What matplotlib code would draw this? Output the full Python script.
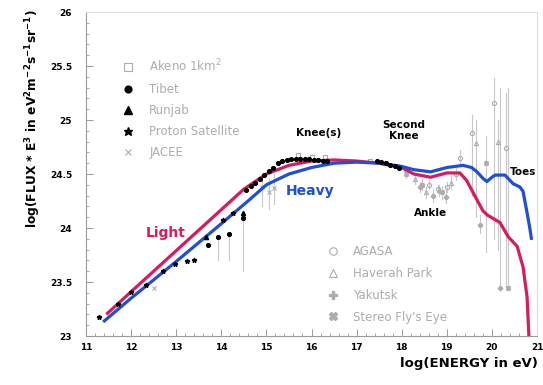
import matplotlib
matplotlib.use("Agg")
import matplotlib.pyplot as plt
from matplotlib.ticker import MultipleLocator, FixedLocator

# ---------------- data ----------------
light_x = [11.45, 12.0, 12.5, 13.0, 13.5, 14.0, 14.5, 15.0, 15.5, 16.0, 16.5, 17.0, 17.5,
           18.0, 18.27, 18.64, 19.0, 19.29, 19.44, 19.67, 19.8, 19.9, 20.02, 20.18, 20.36,
           20.56, 20.69, 20.78, 20.82]
light_y = [23.2, 23.41, 23.6, 23.79, 23.98, 24.17, 24.36, 24.5, 24.58, 24.62, 24.63, 24.62, 24.6,
           24.56, 24.5, 24.47, 24.51, 24.51, 24.44, 24.26, 24.16, 24.12, 24.09, 24.05, 23.92,
           23.83, 23.64, 23.36, 23.0]

heavy_x = [11.38, 12.0, 13.0, 14.0, 14.62, 15.0, 15.5, 16.0, 16.5, 17.0, 17.53, 18.0, 18.27,
           18.64, 19.0, 19.36, 19.55, 19.67, 19.8, 19.89, 20.0, 20.07, 20.29, 20.47, 20.62,
           20.69, 20.78, 20.84, 20.88]
heavy_y = [23.13, 23.35, 23.69, 24.04, 24.26, 24.4, 24.5, 24.56, 24.6, 24.61, 24.6, 24.57, 24.54,
           24.52, 24.56, 24.58, 24.56, 24.52, 24.46, 24.43, 24.47, 24.49, 24.49, 24.41, 24.38,
           24.34, 24.14, 24.0, 23.89]

# Proton Satellite (small black stars)
proton_x = [11.29, 11.71, 12.0, 12.33, 12.71, 12.98, 13.24, 13.4, 14.04, 14.27]
proton_y = [23.18, 23.3, 23.41, 23.47, 23.6, 23.67, 23.69, 23.7, 24.07, 24.14]

# Runjab (filled triangles)
runjab_x = [13.66, 14.49]
runjab_y = [23.92, 24.14]

# Tibet (filled circles)
tibet_x = [13.71, 13.93, 14.17, 14.49,
           14.55, 14.65, 14.75, 14.85, 14.95, 15.05, 15.15, 15.25, 15.35, 15.45, 15.55, 15.65,
           15.75, 15.85, 15.95, 16.05, 16.15, 16.25, 16.35,
           17.45, 17.55, 17.65, 17.75, 17.85, 17.95]
tibet_y = [23.84, 23.92, 23.94, 24.09,
           24.35, 24.39, 24.42, 24.45, 24.49, 24.53, 24.56, 24.6, 24.62, 24.63, 24.64, 24.64,
           24.64, 24.64, 24.64, 24.63, 24.63, 24.62, 24.62,
           24.62, 24.61, 24.6, 24.58, 24.57, 24.56]
tibet_lo = [23.84, 23.7, 23.7, 23.6,
            24.35, 24.39, 24.42, 24.45, 24.49, 24.53, 24.56, 24.6, 24.62, 24.63, 24.64, 24.64,
            24.64, 24.64, 24.64, 24.63, 24.63, 24.62, 24.62,
            24.62, 24.61, 24.6, 24.58, 24.57, 24.56]

# JACEE (grey crosses)
jacee_x = [12.51, 14.9, 15.05, 15.17]
jacee_y = [23.44, 24.38, 24.33, 24.37]
jacee_lo = [23.44, 24.2, 24.18, 24.22]
jacee_hi = [23.44, 24.5, 24.46, 24.5]

# Akeno 1km^2 (open squares)
akeno_x = [15.7, 16.0, 16.3, 17.3, 17.6, 17.9, 18.1]
akeno_y = [24.68, 24.66, 24.66, 24.62, 24.6, 24.57, 24.55]

# AGASA (open circles)
agasa_x = [18.6, 18.8, 19.0, 19.2, 19.29, 19.55, 20.04, 20.31]
agasa_y = [24.4, 24.36, 24.38, 24.5, 24.65, 24.88, 25.16, 24.74]
agasa_lo = [24.36, 24.32, 24.33, 24.44, 24.58, 24.3, 23.9, 23.45]
agasa_hi = [24.44, 24.4, 24.43, 24.56, 24.72, 25.05, 25.39, 25.25]

# Haverah Park (open triangles)
haverah_x = [18.3, 18.53, 18.82, 19.1, 19.64, 20.13]
haverah_y = [24.45, 24.33, 24.35, 24.42, 24.79, 24.8]
haverah_lo = [24.41, 24.28, 24.3, 24.36, 24.1, 23.8]
haverah_hi = [24.49, 24.38, 24.4, 24.48, 25.0, 25.0]

# Yakutsk
yakutsk_x = [18.4, 18.7, 18.98, 19.73, 20.18]
yakutsk_y = [24.38, 24.3, 24.29, 24.03, 23.44]
yakutsk_lo = [24.33, 24.24, 24.23, 23.95, 23.44]
yakutsk_hi = [24.43, 24.36, 24.35, 24.12, 25.3]

# Stereo Fly's Eye
flyseye_x = [18.1, 18.45, 18.9, 19.87, 20.36]
flyseye_y = [24.5, 24.4, 24.33, 24.6, 23.44]
flyseye_lo = [24.46, 24.35, 24.27, 23.78, 23.44]
flyseye_hi = [24.54, 24.45, 24.39, 24.85, 25.3]

x_ticks = [11, 12, 13, 14, 15, 16, 17, 18, 19, 20, 21]
y_ticks = [23, 23.5, 24, 24.5, 25, 25.5, 26]
y_tick_labels = ["23", "23.5", "24", "24.5", "25", "25.5", "26"]

LIGHT_C = "#d81b60"
HEAVY_C = "#1f4fd6"
GREY = "#adadad"
ERR = "#c8c8c8"

# ---------------- figure ----------------
fig = plt.figure(figsize=(5.43, 3.85), dpi=100)
ax = fig.add_axes([86 / 543, 1 - 336 / 385, (537 - 86) / 543, (336 - 12) / 385])
ax.set_xlim(11, 21)
ax.set_ylim(23, 26)


def errbars(xs, lo, hi):
    for x, a, b in zip(xs, lo, hi):
        if b > a:
            ax.plot([x, x], [a, b], color=ERR, lw=0.8, zorder=1)


errbars(tibet_x, tibet_lo, tibet_y)
errbars(jacee_x, jacee_lo, jacee_hi)
errbars(agasa_x, agasa_lo, agasa_hi)
errbars(haverah_x, haverah_lo, haverah_hi)
errbars(yakutsk_x, yakutsk_lo, yakutsk_hi)
errbars(flyseye_x, flyseye_lo, flyseye_hi)

h_akeno, = ax.plot(akeno_x, akeno_y, ls="none", marker="s", mfc="none", mec=GREY, ms=3, mew=0.8, zorder=2)
h_tibet, = ax.plot(tibet_x, tibet_y, ls="none", marker="o", color="black", ms=2.7, zorder=4)
h_runjab, = ax.plot(runjab_x, runjab_y, ls="none", marker="^", color="black", ms=3, zorder=4)
h_proton, = ax.plot(proton_x, proton_y, ls="none", marker="*", color="black", ms=3.5, zorder=4)
h_jacee, = ax.plot(jacee_x, jacee_y, ls="none", marker="x", color=GREY, ms=2.6, mew=0.8, zorder=2)

h_agasa, = ax.plot(agasa_x, agasa_y, ls="none", marker="o", mfc="none", mec=GREY, ms=3, mew=0.8, zorder=2)
h_haverah, = ax.plot(haverah_x, haverah_y, ls="none", marker="^", mfc="none", mec=GREY, ms=3, mew=0.8, zorder=2)
h_yakutsk, = ax.plot(yakutsk_x, yakutsk_y, ls="none", marker="P", color=GREY, ms=3, zorder=2)
h_flys, = ax.plot(flyseye_x, flyseye_y, ls="none", marker="X", color=GREY, ms=3, zorder=2)

ax.plot(light_x, light_y, color=LIGHT_C, lw=2.3, zorder=3, solid_capstyle="butt")
ax.plot(heavy_x, heavy_y, color=HEAVY_C, lw=2.3, zorder=3, solid_capstyle="butt")

# ---------------- axes styling ----------------
for side in ["top", "right"]:
    ax.spines[side].set_color("#dcdcdc")
    ax.spines[side].set_linewidth(0.8)
for side in ["left", "bottom"]:
    ax.spines[side].set_color("#9a9a9a")
    ax.spines[side].set_linewidth(0.8)

ax.xaxis.set_major_locator(FixedLocator(x_ticks))
ax.xaxis.set_minor_locator(MultipleLocator(0.2))
ax.yaxis.set_major_locator(FixedLocator(y_ticks))
ax.yaxis.set_minor_locator(MultipleLocator(0.1))
ax.set_yticklabels(y_tick_labels)
ax.tick_params(which="both", direction="in", color="#9a9a9a", top=False, right=False)
ax.tick_params(which="major", length=5, width=0.7)
ax.tick_params(which="minor", length=2.5, width=0.6)
ax.tick_params(axis="y", which="major", pad=10)
ax.tick_params(axis="x", which="major", pad=5)
for lab in ax.get_xticklabels() + ax.get_yticklabels():
    lab.set_fontsize(6.5)
    lab.set_fontweight("bold")

fig.text(538 / 543, 1 - 363 / 385, "log(ENERGY in eV)", ha="right", va="center",
         fontsize=9.5, fontweight="bold")
fig.text(33 / 543, 1 - 119 / 385,
         r"log(FLUX * E$^{\mathbf{3}}$ in eV$^{\mathbf{2}}$m$^{\mathbf{-2}}$s$^{\mathbf{-1}}$sr$^{\mathbf{-1}}$)",
         rotation=90, ha="center", va="center", fontsize=8.8, fontweight="bold")

# ---------------- annotations ----------------
ax.text(16.15, 24.88, "Knee(s)", fontsize=7.5, fontweight="bold", ha="center", va="center")
ax.text(18.05, 24.9, "Second\nKnee", fontsize=7.5, fontweight="bold", ha="center", va="center",
        linespacing=1.1)
ax.text(18.65, 24.14, "Ankle", fontsize=7.5, fontweight="bold", ha="center", va="center")
ax.text(20.7, 24.52, "Toes", fontsize=7.5, fontweight="bold", ha="center", va="center")
ax.text(12.77, 23.95, "Light", fontsize=10, fontweight="bold", color=LIGHT_C, ha="center", va="center")
ax.text(15.97, 24.34, "Heavy", fontsize=10, fontweight="bold", color=HEAVY_C, ha="center", va="center")

# ---------------- legends ----------------
leg1 = ax.legend([h_akeno, h_tibet, h_runjab, h_proton, h_jacee],
                 [r"Akeno 1km$^2$", "Tibet", "Runjab", "Proton Satellite", "JACEE"],
                 loc="upper left", bbox_to_anchor=(122 / 543, 1 - 58 / 385),
                 bbox_transform=fig.transFigure, frameon=False, fontsize=8.5,
                 labelcolor=GREY, handlelength=1.0, handletextpad=1.3, labelspacing=0.69,
                 borderpad=0, borderaxespad=0, markerscale=1.8)
ax.add_artist(leg1)
ax.legend([h_agasa, h_haverah, h_yakutsk, h_flys],
          ["AGASA", "Haverah Park", "Yakutsk", "Stereo Fly's Eye"],
          loc="upper left", bbox_to_anchor=(327 / 543, 1 - 245 / 385),
          bbox_transform=fig.transFigure, frameon=False, fontsize=8.5,
          labelcolor=GREY, handlelength=1.0, handletextpad=1.2, labelspacing=0.75,
          borderpad=0, borderaxespad=0, markerscale=1.8)

fig.savefig("out.png", dpi=100)
